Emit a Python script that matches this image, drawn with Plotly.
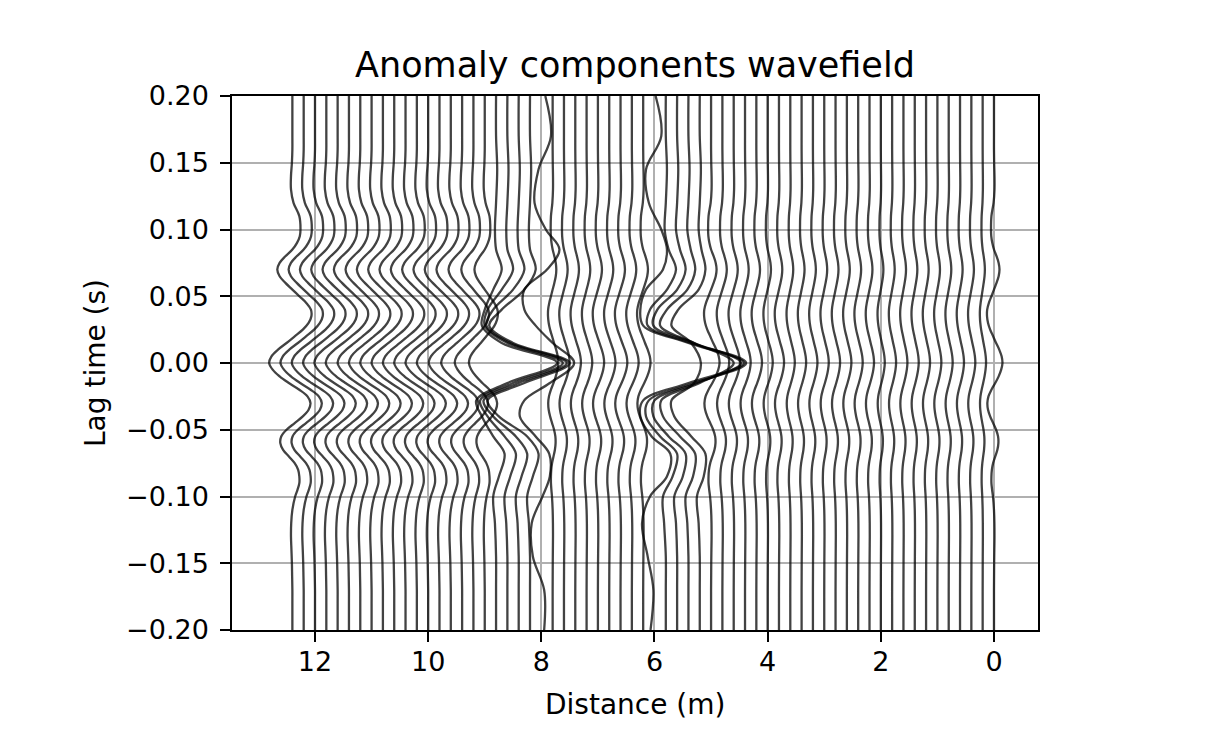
import plotly.graph_objects as go

# ---------------- data ----------------
# lag-time samples (s) used by the regular traces
LAG_TIME = [-0.2, -0.19, -0.18, -0.17, -0.16, -0.15, -0.14, -0.13, -0.12, -0.11,
            -0.1, -0.095, -0.09, -0.085, -0.08, -0.075, -0.07, -0.065, -0.06, -0.055,
            -0.05, -0.045, -0.04, -0.035, -0.03, -0.025, -0.02, -0.015, -0.01, -0.005,
            0.0, 0.005, 0.01, 0.015, 0.02, 0.025, 0.03, 0.035, 0.04, 0.045,
            0.05, 0.055, 0.06, 0.065, 0.07, 0.075, 0.08, 0.085, 0.09, 0.095,
            0.1, 0.11, 0.12, 0.13, 0.14, 0.15, 0.16, 0.17, 0.18, 0.19, 0.2]

# normalised waveform
WAVEFORM = [0.0, 0.0, 0.0, 0.0, 0.01, 0.02, 0.04, 0.06, 0.05, 0.0,
            -0.12, -0.22, -0.3, -0.3, -0.25, -0.1, 0.15, 0.4, 0.52, 0.48,
            0.25, -0.1, -0.45, -0.7, -0.78, -0.65, -0.3, 0.15, 0.55, 0.85,
            1.0, 0.9, 0.62, 0.25, -0.1, -0.45, -0.7, -0.82, -0.8, -0.6,
            -0.3, 0.0, 0.3, 0.55, 0.65, 0.55, 0.3, 0.0, -0.2, -0.32,
            -0.35, -0.3, -0.05, 0.06, 0.06, 0.02, 0.0, 0.0, 0.0, 0.0, 0.0]

# regular traces: receiver distance (m) and waveform amplitude (m)
TRACE_DIST = [0.0, 0.2, 0.4, 0.6, 0.8, 1.0, 1.2, 1.4, 1.6, 1.8,
              2.0, 2.2, 2.4, 2.6, 2.8, 3.0, 3.2, 3.4, 3.6, 3.8,
              4.0, 4.2, 4.4, 4.6, 4.8, 5.0,
              6.2, 6.4, 6.6, 6.8, 7.0, 7.2, 7.4, 7.6, 7.8,
              9.0, 9.2, 9.4, 9.6, 9.8, 10.0, 10.2, 10.4, 10.6, 10.8,
              11.0, 11.2, 11.4, 11.6, 11.8, 12.0, 12.2, 12.4]
TRACE_AMP = [-0.15, -0.06, -0.07, -0.07, -0.07, -0.07, -0.07, -0.07, -0.07, -0.07,
             -0.07, -0.08, -0.08, -0.08, -0.08, -0.08, -0.08, -0.08, -0.08, -0.09,
             -0.09, -0.1, -0.1, -0.11, -0.12, -0.15,
             -0.13, -0.12, -0.12, -0.11, -0.11, -0.1, -0.1, -0.1, -0.1,
             0.28, 0.33, 0.37, 0.39, 0.4, 0.4, 0.4, 0.4, 0.4, 0.4,
             0.4, 0.4, 0.41, 0.41, 0.41, 0.41, 0.41, 0.41]

# anomaly traces, key lag times (s) and traced positions (m)
KEY_TIME = [0.2, 0.17, 0.145, 0.12, 0.1, 0.085, 0.07, 0.055, 0.04, 0.028, 0.015, 0.0,
            -0.015, -0.028, -0.04, -0.055, -0.068, -0.085, -0.1, -0.12, -0.145, -0.17, -0.2]

ANOM_8_0 = [7.93, 7.83, 8.05, 8.12, 7.92, 7.68, 7.9, 8.3, 8.3, 8.1, 7.8, 7.42,
            7.85, 8.3, 8.38, 8.1, 7.86, 7.85, 7.98, 8.17, 8.15, 7.95, 7.95]
ANOM_8_2 = [8.2, 8.2, 8.18, 8.2, 8.22, 8.2, 8.1, 8.3, 8.7, 8.92, 8.5, 7.5,
            8.3, 8.95, 8.75, 8.25, 8.05, 8.15, 8.25, 8.22, 8.2, 8.2, 8.2]
ANOM_8_4 = [8.4, 8.4, 8.38, 8.4, 8.42, 8.4, 8.3, 8.5, 8.85, 8.97, 8.55, 7.55,
            8.4, 9.02, 8.85, 8.45, 8.25, 8.35, 8.45, 8.42, 8.4, 8.4, 8.4]
ANOM_8_6 = [8.6, 8.6, 8.58, 8.6, 8.62, 8.6, 8.5, 8.7, 8.95, 9.0, 8.6, 7.62,
            8.5, 9.08, 8.95, 8.65, 8.45, 8.55, 8.65, 8.62, 8.6, 8.6, 8.6]
ANOM_8_8 = [8.8, 8.8, 8.78, 8.8, 8.82, 8.8, 8.7, 8.85, 9.0, 9.05, 8.7, 7.72,
            8.6, 9.15, 9.05, 8.85, 8.65, 8.75, 8.85, 8.82, 8.8, 8.8, 8.8]

ANOM_6_0 = [5.98, 5.88, 6.15, 6.1, 5.88, 5.78, 5.85, 6.15, 6.25, 6.2, 5.4, 4.42,
            5.4, 6.2, 6.25, 6.05, 5.72, 5.78, 6.08, 6.22, 6.12, 6.02, 6.07]
ANOM_5_8 = [5.8, 5.8, 5.78, 5.8, 5.82, 5.75, 5.62, 5.78, 6.08, 6.12, 5.35, 4.38,
            5.3, 6.1, 6.15, 5.9, 5.6, 5.68, 5.85, 5.83, 5.8, 5.8, 5.8]
ANOM_5_6 = [5.6, 5.6, 5.58, 5.6, 5.62, 5.55, 5.45, 5.6, 5.95, 6.02, 5.3, 4.47,
            5.25, 6.0, 6.02, 5.75, 5.45, 5.5, 5.65, 5.62, 5.6, 5.6, 5.6]
ANOM_5_4 = [5.4, 5.4, 5.38, 5.4, 5.42, 5.36, 5.28, 5.42, 5.78, 5.9, 5.3, 4.6,
            5.2, 5.88, 5.85, 5.55, 5.28, 5.32, 5.45, 5.42, 5.4, 5.4, 5.4]
ANOM_5_2 = [5.2, 5.2, 5.18, 5.2, 5.22, 5.17, 5.1, 5.22, 5.58, 5.7, 5.35, 5.18,
            5.3, 5.7, 5.65, 5.35, 5.1, 5.13, 5.25, 5.22, 5.2, 5.2, 5.2]

ANOMALY_TRACES = [ANOM_8_0, ANOM_8_2, ANOM_8_4, ANOM_8_6, ANOM_8_8,
                  ANOM_6_0, ANOM_5_8, ANOM_5_6, ANOM_5_4, ANOM_5_2]

Y_TICKS = [-0.2, -0.15, -0.1, -0.05, 0.0, 0.05, 0.1, 0.15, 0.2]
Y_TICK_TEXT = ["\u22120.20", "\u22120.15", "\u22120.10", "\u22120.05", "0.00",
               "0.05", "0.10", "0.15", "0.20"]
X_TICKS = [12, 10, 8, 6, 4, 2, 0]
X_TICK_TEXT = ["12", "10", "8", "6", "4", "2", "0"]

# ---------------- figure ----------------
LINE = dict(color="rgba(0,0,0,0.74)", width=2.3, shape="spline", smoothing=1.0)
FONT = "DejaVu Sans, Liberation Sans, sans-serif"

fig = go.Figure()
for d, a in zip(TRACE_DIST, TRACE_AMP):
    xs = [d + a * w for w in WAVEFORM]
    fig.add_trace(go.Scatter(x=xs, y=LAG_TIME, mode="lines", line=LINE,
                             hoverinfo="skip", showlegend=False))
for tr in ANOMALY_TRACES:
    fig.add_trace(go.Scatter(x=tr, y=KEY_TIME, mode="lines", line=LINE,
                             hoverinfo="skip", showlegend=False))

axis_common = dict(showline=True, linecolor="black", linewidth=1.5, mirror=True,
                   ticks="outside", ticklen=10, tickwidth=1.5, tickcolor="black",
                   showgrid=True, gridcolor="#b0b0b0", gridwidth=1.5,
                   zeroline=False, tickfont=dict(family=FONT, size=27, color="black"))

fig.update_layout(
    width=1212, height=732,
    margin=dict(l=224, r=182, t=88, b=110),
    paper_bgcolor="white", plot_bgcolor="white",
    xaxis=dict(range=[13.467, -0.778], tickvals=X_TICKS, ticktext=X_TICK_TEXT,
               ticklabelstandoff=-3, **axis_common),
    yaxis=dict(range=[-0.2, 0.2], tickvals=Y_TICKS, ticktext=Y_TICK_TEXT,
               ticklabelstandoff=6, **axis_common),
    annotations=[
        dict(text="Anomaly components wavefield", xref="paper", yref="paper",
             x=0.5, y=1.058, xanchor="center", yanchor="middle", showarrow=False,
             font=dict(family=FONT, size=35, color="black")),
        dict(text="Distance (m)", xref="paper", yref="paper",
             x=0.5, y=-0.1404, xanchor="center", yanchor="middle", showarrow=False,
             font=dict(family=FONT, size=28, color="black")),
        dict(text="Lag time (s)", xref="paper", yref="paper",
             x=-0.17, y=0.5, xanchor="center", yanchor="middle", showarrow=False,
             textangle=-90, font=dict(family=FONT, size=28, color="black")),
    ],
)

fig.write_html("out.html")
